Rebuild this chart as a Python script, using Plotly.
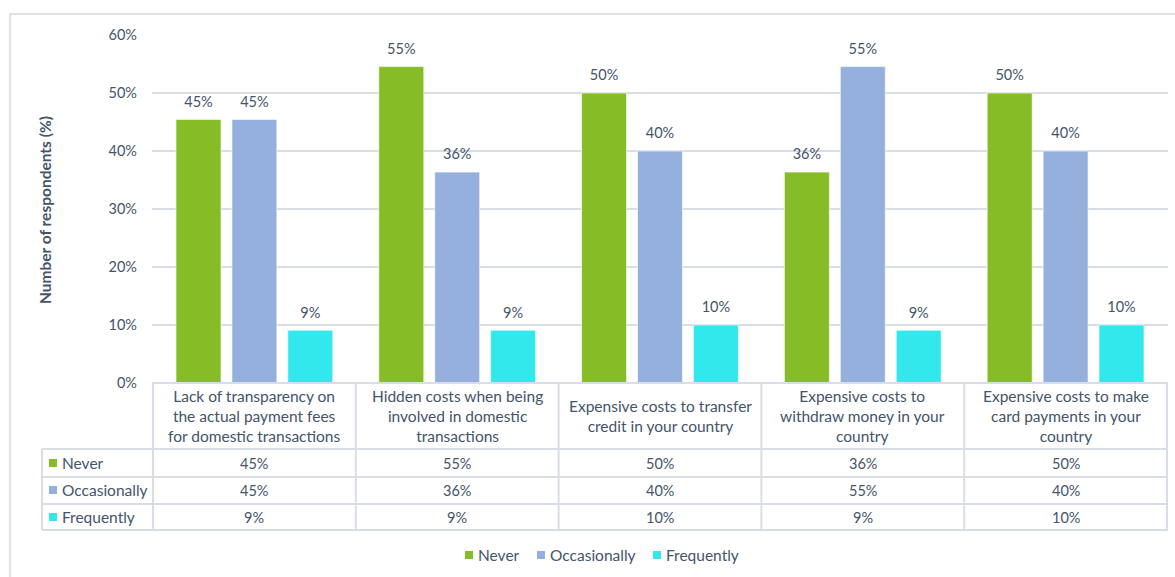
import plotly.graph_objects as go

# Survey categories (line breaks used in the table header cells)
categories = [
    "Lack of transparency on<br>the actual payment fees<br>for domestic transactions",
    "Hidden costs when being<br>involved in domestic<br>transactions",
    "Expensive costs to transfer<br>credit in your country",
    "Expensive costs to<br>withdraw money in your<br>country",
    "Expensive costs to make<br>card payments in your<br>country",
]

series_names = ["Never", "Occasionally", "Frequently"]
never = [45.45, 54.55, 50.0, 36.36, 50.0]
occasionally = [45.45, 36.36, 40.0, 54.55, 40.0]
frequently = [9.09, 9.09, 10.0, 9.09, 10.0]
series_values = [never, occasionally, frequently]

y_ticks = [0, 10, 20, 30, 40, 50, 60]
y_tick_labels = [f"{v}%" for v in y_ticks]

colors = ["#86BC25", "#95B0DD", "#33E8EC"]
text_color = "#44546A"
line_color = "#D9DEE6"
font_family = "Lato, 'Open Sans', sans-serif"
word_size = 15.5
num_size = 14.5

W, H = 1175, 577
L, R, T, B = 152, 7, 35, 194
plot_w = W - L - R
plot_h = H - T - B


def px2x(px):
    return (px - L) / plot_w


def py2y(py):
    return (H - B - py) / plot_h


def pct(v):
    return f"{v:.0f}%"


def font(size):
    return dict(size=size, color=text_color, family=font_family)


fig = go.Figure()

for name, vals, col in zip(series_names, series_values, colors):
    fig.add_trace(go.Bar(
        x=categories, y=vals, name=name,
        marker=dict(color=col, line=dict(color="rgba(255,255,255,0.6)", width=1)),
        hoverinfo="skip", showlegend=False,
    ))

# value labels above bars
for name, vals in zip(series_names, series_values):
    fig.add_trace(go.Scatter(
        x=categories, y=vals, mode="markers+text",
        marker=dict(size=13, opacity=0),
        text=[pct(v) for v in vals], textposition="top center",
        textfont=font(num_size),
        showlegend=False, hoverinfo="skip", cliponaxis=False,
    ))

shapes = []
annotations = []

# outer chart frame
shapes.append(dict(type="rect", xref="paper", yref="paper",
                   x0=px2x(10), x1=px2x(1190), y0=py2y(600), y1=py2y(14),
                   line=dict(color="#D9D9D9", width=1.5), layer="below"))

# data table below the axis
row_lines = [383, 449, 477, 504, 530]
n = len(categories)
for i, py in enumerate(row_lines):
    shapes.append(dict(type="line", xref="paper", yref="paper",
                       x0=px2x(42) if i > 0 else 0, x1=1,
                       y0=py2y(py), y1=py2y(py),
                       line=dict(color=line_color, width=2)))
for k in range(n + 1):
    shapes.append(dict(type="line", xref="x", yref="paper",
                       x0=k - 0.5, x1=k - 0.5,
                       y0=py2y(383), y1=py2y(530),
                       line=dict(color=line_color, width=2)))
shapes.append(dict(type="line", xref="paper", yref="paper",
                   x0=px2x(42), x1=px2x(42), y0=py2y(449), y1=py2y(530),
                   line=dict(color=line_color, width=2)))

for cat in categories:
    annotations.append(dict(x=cat, xref="x", y=py2y(416), yref="paper",
                            text=cat, showarrow=False, yanchor="middle",
                            font=font(word_size)))

row_centers = [463, 490, 517]
for name, vals, col, cy in zip(series_names, series_values, colors, row_centers):
    shapes.append(dict(type="rect", xref="paper", yref="paper",
                       x0=px2x(49), x1=px2x(57), y0=py2y(cy + 4), y1=py2y(cy - 4),
                       fillcolor=col, line=dict(width=0)))
    annotations.append(dict(x=px2x(60), xref="paper", y=py2y(cy), yref="paper",
                            text=name, showarrow=False, xanchor="left", yanchor="middle",
                            font=font(word_size)))
    for cat, v in zip(categories, vals):
        annotations.append(dict(x=cat, xref="x", y=py2y(cy), yref="paper",
                                text=pct(v), showarrow=False, yanchor="middle",
                                font=font(num_size)))

# legend below the table
legend_keys = [465, 537, 653]
legend_cy = 555
for name, col, kx in zip(series_names, colors, legend_keys):
    shapes.append(dict(type="rect", xref="paper", yref="paper",
                       x0=px2x(kx), x1=px2x(kx + 8),
                       y0=py2y(legend_cy + 4), y1=py2y(legend_cy - 4),
                       fillcolor=col, line=dict(width=0)))
    annotations.append(dict(x=px2x(kx + 11), xref="paper", y=py2y(legend_cy), yref="paper",
                            text=name, showarrow=False, xanchor="left", yanchor="middle",
                            font=font(word_size)))

# y-axis title
annotations.append(dict(x=px2x(45), xref="paper", y=py2y(210), yref="paper",
                        text="<b>Number of respondents (%)</b>", textangle=-90,
                        showarrow=False, xanchor="center", yanchor="middle",
                        font=font(word_size)))

fig.update_layout(
    width=W, height=H,
    margin=dict(l=L, r=R, t=T, b=B),
    paper_bgcolor="white", plot_bgcolor="white",
    barmode="group", bargap=0.173, bargroupgap=0.196,
    scattermode="group", scattergap=0.173,
    font=font(num_size),
    shapes=shapes, annotations=annotations,
    showlegend=False,
)
fig.update_xaxes(showticklabels=False, showgrid=False, zeroline=False,
                 showline=False, ticks="")
fig.update_yaxes(range=[0, 60], tickmode="array", tickvals=y_ticks, ticktext=y_tick_labels,
                 showgrid=True, gridcolor=line_color, gridwidth=1.5,
                 zeroline=False, showline=False, ticks="",
                 ticklabelstandoff=14,
                 tickfont=font(num_size))

fig.write_html("out.html")
